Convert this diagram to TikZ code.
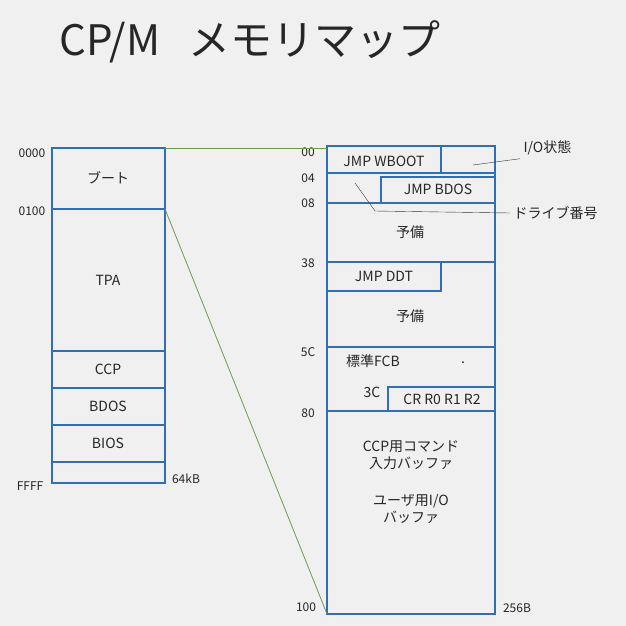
\documentclass[tikz,border=0pt]{standalone}
\usepackage{fontspec}
\setmainfont{Noto Sans CJK JP}
\begin{document}
\begin{tikzpicture}[x=1pt,y=-1pt,
  bx/.style={draw=bl,line width=1.6pt},
  lbl/.style={font=\fontsize{12}{14}\selectfont,text=black!85},
  txt/.style={font=\fontsize{14}{17}\selectfont,text=black!85,align=center},
  gr/.style={draw=gn,line width=0.8pt}]
\definecolor{bg}{HTML}{F0F0F0}
\definecolor{bl}{HTML}{2E6FB5}
\definecolor{gn}{HTML}{6A9A48}
\fill[bg] (0,0) rectangle (626,626);
\useasboundingbox (0,0) rectangle (626,626);
\node[font=\fontsize{42}{48}\selectfont,text=black!85] (title) at (250,42) {CP/M\hspace{28pt}メモリマップ};
% left column
\draw[bx] (52,148) rectangle (165,483);
\foreach \y in {209,351,388,425,462} \draw[bx] (52,\y) -- (165,\y);
\node[txt] (boot) at (108,178) {ブート};
\node[txt] (tpa) at (108,280) {TPA};
\node[txt] (ccp) at (108,369) {CCP};
\node[txt] (bdos) at (108,406) {BDOS};
\node[txt] (bios) at (108,443) {BIOS};
\node[lbl] at (32,153) {0000};
\node[lbl] at (32,211) {0100};
\node[lbl] at (30,486) {FFFF};
\node[lbl] at (186,479) {64kB};
\coordinate (l0) at (165,148); \coordinate (l1) at (165,209);
% right column
\draw[bx] (327,146) rectangle (495,614);
\draw[bx] (327,173) -- (495,173);
\draw[bx] (327,203) -- (495,203);
\draw[bx] (327,262) -- (495,262);
\draw[bx] (327,347) -- (495,347);
\draw[bx] (327,411) -- (495,411);
\draw[bx] (327,146) rectangle (441,173);
\draw[bx] (381,177) rectangle (495,203);
\draw[bx] (327,262) rectangle (441,291);
\draw[bx] (388,387) rectangle (495,411);
\node[txt] at (384,161) {JMP WBOOT};
\node[txt] at (438,189) {JMP BDOS};
\node[txt] at (410,232) {予備};
\node[txt] at (384,276) {JMP DDT};
\node[txt] at (410,316) {予備};
\node[txt] at (373,361) {標準FCB};
\node[txt] at (463,363) {.};
\node[txt] at (372,392) {3C};
\node[txt] at (442,399) {CR R0 R1 R2};
\node[txt] at (411,455) {CCP用コマンド\\入力バッファ};
\node[txt] at (411,509) {ユーザ用I/O\\バッファ};
\foreach \t/\y in {00/152,04/178,08/203,38/263,5C/352,80/413}
  \node[lbl] at (308,\y) {\t};
\node[lbl] at (306,607) {100};
\node[lbl] at (517,608) {256B};
\coordinate (r0) at (327,148); \coordinate (r1) at (327,614);
\draw[gr] (l0) -- (r0);
\draw[gr] (l1) -- (r1);
% callouts
\node[txt,anchor=west] (io) at (520,148) {I/O状態};
\node[txt,anchor=west] (drv) at (510,213) {ドライブ番号};
\draw[black!80] (473,165) -- (io.south west);
\draw[black!80] (355,183) -- (375,211) -- (drv.west);
\end{tikzpicture}
\end{document}
